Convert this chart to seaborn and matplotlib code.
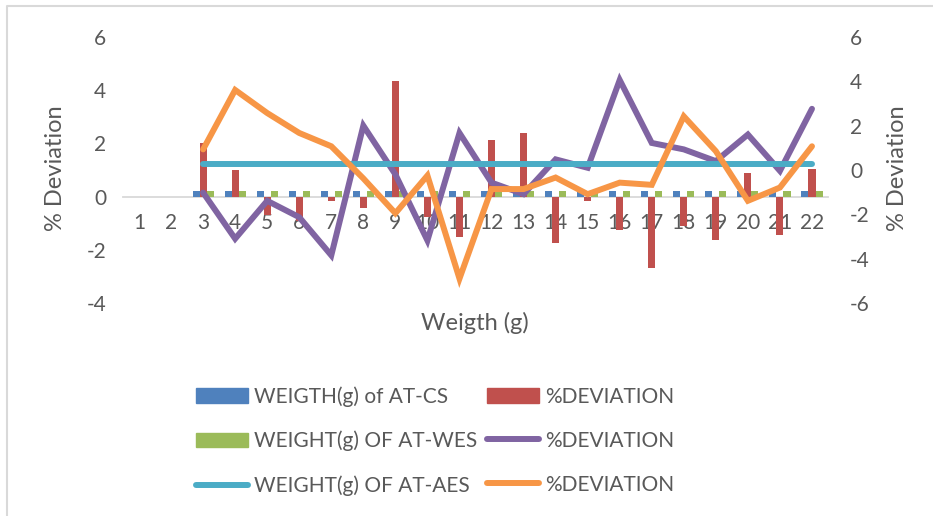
import matplotlib
matplotlib.use("Agg")
import matplotlib.pyplot as plt
from matplotlib.lines import Line2D
from matplotlib.patches import Patch
import pandas as pd
import seaborn as sns

# category axis (weights 1..22), data only exists from 3 onwards
categories = ["1", "2", "3", "4", "5", "6", "7", "8", "9", "10", "11",
              "12", "13", "14", "15", "16", "17", "18", "19", "20", "21", "22"]
data_cats = ["3", "4", "5", "6", "7", "8", "9", "10", "11", "12", "13",
             "14", "15", "16", "17", "18", "19", "20", "21", "22"]

# primary axis (bars)
weight_cs = [0.22, 0.22, 0.22, 0.22, 0.22, 0.22, 0.22, 0.22, 0.22, 0.22,
             0.22, 0.22, 0.22, 0.22, 0.22, 0.22, 0.22, 0.22, 0.22, 0.22]
dev_cs = [2.03, 1.0, -0.71, -0.93, -0.15, -0.42, 4.33, -0.77, -1.52, 2.13,
          2.4, -1.74, -0.17, -1.27, -2.7, -1.1, -1.64, 0.87, -1.46, 1.03]
weight_wes = [0.2, 0.2, 0.2, 0.2, 0.2, 0.2, 0.2, 0.2, 0.2, 0.2,
              0.2, 0.2, 0.2, 0.2, 0.2, 0.2, 0.2, 0.2, 0.2, 0.2]

# secondary axis (lines)
dev_wes = [-1.02, -3.1, -1.39, -2.13, -3.85, 2.0, -0.2, -3.18, 1.67, -0.57,
           -1.09, 0.48, 0.1, 4.06, 1.22, 0.93, 0.4, 1.6, -0.04, 2.76]
weight_aes = [0.27, 0.27, 0.27, 0.27, 0.27, 0.27, 0.27, 0.27, 0.27, 0.27,
              0.27, 0.27, 0.27, 0.27, 0.27, 0.27, 0.27, 0.27, 0.27, 0.27]
dev_aes = [0.93, 3.61, 2.57, 1.67, 1.07, -0.38, -1.95, -0.25, -4.9, -0.86,
           -0.86, -0.34, -1.09, -0.57, -0.67, 2.42, 0.85, -1.39, -0.79, 1.07]

bar_names = ["WEIGTH(g) of AT-CS", "%DEVIATION", "WEIGHT(g) OF AT-WES"]
bar_colors = ["#4F81BD", "#C0504D", "#9BBB59"]
PURPLE, CYAN, ORANGE = "#8064A2", "#4BACC6", "#F79646"
TEXT = "#595959"
GRID = "#D9D9D9"

sns.set_style("white")
plt.rcParams["font.family"] = ["Lato", "DejaVu Sans"]
plt.rcParams["axes.unicode_minus"] = False

bars = pd.DataFrame({
    "cat": data_cats * 3,
    "value": weight_cs + dev_cs + weight_wes,
    "series": [bar_names[0]] * 20 + [bar_names[1]] * 20 + [bar_names[2]] * 20,
})

W, H = 933, 516
fig = plt.figure(figsize=(W / 100, H / 100), dpi=100)
ax = fig.add_axes([123 / W, 1 - 303 / H, (828 - 123) / W, (303 - 37) / H])

sns.barplot(data=bars, x="cat", y="value", hue="series", order=categories,
            hue_order=bar_names, palette=bar_colors, width=0.66, saturation=1,
            errorbar=None, legend=False, linewidth=0, edgecolor="none", ax=ax)

ax2 = ax.twinx()
xpos = [categories.index(c) for c in data_cats]
sns.lineplot(x=xpos, y=dev_wes, color=PURPLE, lw=4.3, ax=ax2)
sns.lineplot(x=xpos, y=weight_aes, color=CYAN, lw=4.3, ax=ax2)
sns.lineplot(x=xpos, y=dev_aes, color=ORANGE, lw=4.3, ax=ax2)
for ln in ax2.lines:
    ln.set_solid_capstyle("round")
    ln.set_solid_joinstyle("miter")

ax.set_xlim(-0.5, len(categories) - 0.5)
ax.set_ylim(-4, 6)
ax.set_yticks([-4, -2, 0, 2, 4, 6])
ax2.set_ylim(-6, 6)
ax2.set_yticks([-6, -4, -2, 0, 2, 4, 6])

for a in (ax, ax2):
    for s in a.spines.values():
        s.set_visible(False)
    a.set_xlabel("")
    a.set_ylabel("")
ax.spines["bottom"].set_visible(True)
ax.spines["bottom"].set_position(("data", 0))
ax.spines["bottom"].set_color(GRID)
ax.spines["bottom"].set_linewidth(1.3)
ax.spines["bottom"].set_zorder(0.5)

ax.tick_params(axis="x", length=0, pad=12, labelsize=15, labelcolor=TEXT)
ax.tick_params(axis="y", length=0, pad=12, labelsize=15, labelcolor=TEXT)
ax2.tick_params(axis="y", length=0, pad=16, labelsize=15, labelcolor=TEXT)

fig.text(55 / W, 1 - 168 / H, "% Deviation", rotation=90, ha="center",
         va="center", fontsize=17, color=TEXT)
fig.text(897 / W, 1 - 168 / H, "% Deviation", rotation=90, ha="center",
         va="center", fontsize=17, color=TEXT)
fig.text(475 / W, 1 - 323 / H, "Weigth (g)", ha="center", va="center",
         fontsize=17, color=TEXT)

handles = [
    Patch(color=bar_colors[0]),
    Patch(color=bar_colors[2]),
    Line2D([], [], color=CYAN, lw=4.3, solid_capstyle="round"),
    Patch(color=bar_colors[1]),
    Line2D([], [], color=PURPLE, lw=4.3, solid_capstyle="round"),
    Line2D([], [], color=ORANGE, lw=4.3, solid_capstyle="round"),
]
labels = [bar_names[0], bar_names[2], "WEIGHT(g) OF AT-AES",
          "%DEVIATION", "%DEVIATION", "%DEVIATION"]
leg = fig.legend(handles, labels, ncol=2, loc="center",
                 bbox_to_anchor=(435 / W, 1 - 441 / H), frameon=False,
                 fontsize=15, labelcolor=TEXT, handlelength=2.5,
                 handletextpad=0.3, columnspacing=0.45, labelspacing=1.15,
                 borderpad=0, borderaxespad=0)

# chart area border (left and top edges visible in the crop)
fig.add_artist(Line2D([7 / W, 7 / W, 1], [0, 1 - 6 / H, 1 - 6 / H],
                      transform=fig.transFigure, color=GRID, lw=1.5))

fig.savefig("out.png", dpi=100)
